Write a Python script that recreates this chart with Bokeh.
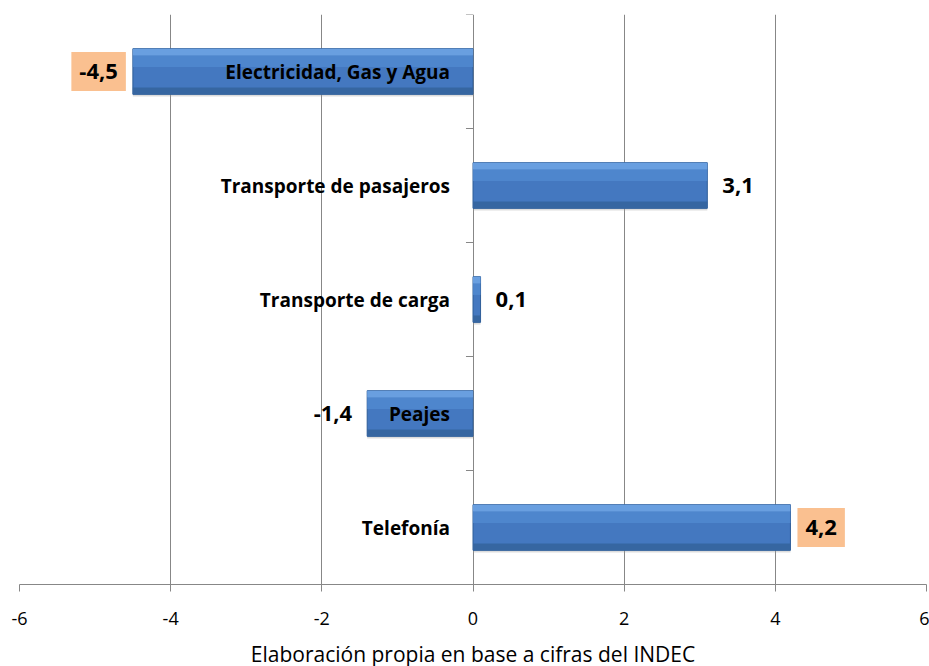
from bokeh.plotting import figure
from bokeh.models import ColumnDataSource, FixedTicker
from bokeh.core.properties import value
from bokeh.embed import file_html
from bokeh.resources import INLINE

# ---- data ----
categories = ["Electricidad, Gas y Agua", "Transporte de pasajeros", "Transporte de carga", "Peajes", "Telefonía"]
values = [-4.5, 3.1, 0.1, -1.4, 4.2]
value_labels = ["-4,5", "3,1", "0,1", "-1,4", "4,2"]
highlight = [True, False, False, False, True]
x_ticks = [-6, -4, -2, 0, 2, 4, 6]
x_tick_labels = ["-6", "-4", "-2", "0", "2", "4", "6"]
caption = "Elaboración propia en base a cifras del INDEC"

n = len(categories)
ypos = [n - i - 0.5 for i in range(n)]
BAR_H = 0.40

src = ColumnDataSource(dict(
    y=ypos,
    v=values,
    cat=categories,
    lab=value_labels,
    align=["left" if v >= 0 else "right" for v in values],
    xoff=[7 if v >= 0 else -7 for v in values],
    bga=[1.0 if h else 0.0 for h in highlight],
    yshadow=[y - 0.02 for y in ypos],
    ytop=[y + BAR_H / 2 - 0.03 for y in ypos],
    yhi=[y + BAR_H / 2 - 0.11 for y in ypos],
    ybot=[y - BAR_H / 2 + 0.03 for y in ypos],
))

GRID = "#878787"

p = figure(x_range=(-6, 6), y_range=(0, n), frame_width=907, frame_height=570,
           min_border_left=19, min_border_right=3, min_border_top=14,
           y_axis_location=None, toolbar_location=None, output_backend="svg")
p.outline_line_color = None
p.background_fill_color = "white"
p.ygrid.visible = False
p.xgrid.grid_line_color = GRID
p.xgrid.grid_line_width = 1
p.xgrid.ticker = FixedTicker(ticks=x_ticks)

ax = p.xaxis[0]
ax.ticker = FixedTicker(ticks=x_ticks)
ax.major_label_overrides = {t: l for t, l in zip(x_ticks, x_tick_labels)}
ax.axis_line_color = GRID
ax.major_tick_line_color = GRID
ax.major_tick_out = 7
ax.major_tick_in = 0
ax.minor_tick_line_color = None
ax.major_label_text_font = "Open Sans"
ax.major_label_text_font_size = "18px"
ax.major_label_text_color = "black"
ax.major_label_standoff = 20
ax.axis_label = caption
ax.axis_label_text_font = "Open Sans"
ax.axis_label_text_font_style = "normal"
ax.axis_label_text_font_size = "21px"
ax.axis_label_text_color = "black"
ax.axis_label_standoff = 12

# category boundary ticks on the zero line
bounds = list(range(1, n + 1))
p.segment(x0=[-0.093] * len(bounds), x1=[0] * len(bounds), y0=bounds, y1=bounds,
          line_color=GRID, line_width=1)

# shadow
p.hbar(y="yshadow", left=0, right="v", height=BAR_H, source=src,
       fill_color="#9a9a9a", fill_alpha=0.35, line_color=None)
# bars with simple bevel / gradient
p.hbar(y="y", left=0, right="v", height=BAR_H, source=src,
       fill_color="#4478C0", line_color="#2F5E99", line_width=1)
p.hbar(y="yhi", left=0, right="v", height=0.10, source=src,
       fill_color="#5189D0", line_color=None, fill_alpha=0.8)
p.hbar(y="ytop", left=0, right="v", height=0.06, source=src,
       fill_color="#6CA1E2", line_color=None, fill_alpha=0.95)
p.hbar(y="ybot", left=0, right="v", height=0.06, source=src,
       fill_color="#36659F", line_color=None, fill_alpha=0.95)

# category labels next to the zero line
p.text(x=0, y="y", text="cat", source=src, x_offset=-23,
       text_align="right", text_baseline="middle",
       text_font=value("Open Sans"), text_font_style="bold",
       text_font_size="19px", text_color="black")

# value labels
p.text(x="v", y="y", text="lab", source=src, x_offset="xoff",
       text_align="align", text_baseline="middle",
       text_font=value("Open Sans"), text_font_style="bold",
       text_font_size="22px", text_color="black",
       background_fill_color="#FAC090", background_fill_alpha="bga",
       padding=dict(left=8, right=8, top=12, bottom=12))

open("out.html", "w").write(file_html(p, INLINE))
